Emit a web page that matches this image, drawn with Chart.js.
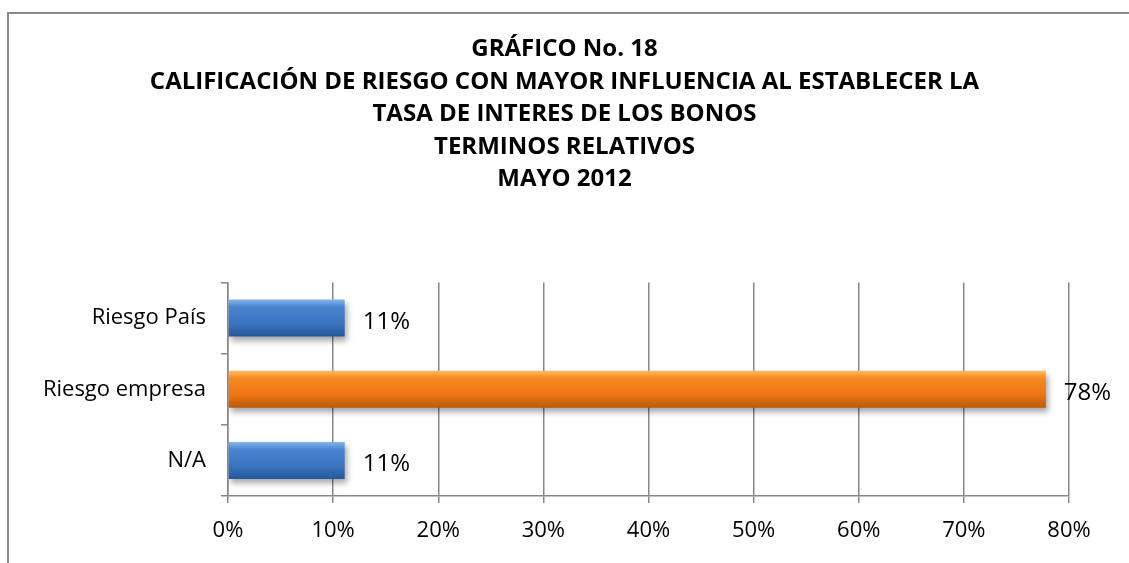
<!DOCTYPE html>
<html>
<head>
<meta charset="utf-8">
<script src="https://cdn.jsdelivr.net/npm/chart.js@4.4.1/dist/chart.umd.min.js"></script>
<style>
  html, body { margin:0; padding:0; background:#fff; overflow:hidden; }
  #wrap { position:relative; width:1129px; height:563px; }
  #frame { position:absolute; left:7px; top:12px; width:1200px; height:600px;
           border-left:2px solid #8a8a8a; border-top:2px solid #8a8a8a; }
  canvas { position:absolute; left:0; top:0; }
</style>
</head>
<body>
<div id="wrap">
  <div id="frame"></div>
  <canvas id="c" width="1129" height="563"></canvas>
</div>
<script>
const titleLines = [
  "GRÁFICO No. 18",
  "CALIFICACIÓN DE RIESGO CON MAYOR INFLUENCIA AL ESTABLECER LA",
  "TASA DE INTERES DE LOS BONOS",
  "TERMINOS RELATIVOS",
  "MAYO 2012"
];
const categories = ["Riesgo País", "Riesgo empresa", "N/A"];
const values = [11.1, 77.8, 11.1];
const barKind = ["blue", "orange", "blue"];
const xTicks = [0, 10, 20, 30, 40, 50, 60, 70, 80];

const FONT = "'Open Sans', Lato, sans-serif";
const BAR_PCT = 0.52;
const palette = {
  blue:   ["#86b6ec", "#4a85d0", "#3a74c0", "#27579a"],
  orange: ["#ffbb66", "#f88a22", "#ee7512", "#b95a0c"]
};

// degradado vertical por barra (efecto "bisel" de Excel)
function barFill(ctx) {
  const chart = ctx.chart;
  const c = palette[barKind[ctx.dataIndex]];
  const ys = chart.scales && chart.scales.y;
  if (!chart.chartArea || !ys) return c[2];
  const yc = ys.getPixelForValue(ctx.dataIndex);
  const h = (ys.height / categories.length) * BAR_PCT;
  if (!isFinite(yc) || !isFinite(h) || h <= 0) return c[2];
  const y0 = yc - h / 2;
  const g = chart.ctx.createLinearGradient(0, y0, 0, y0 + h);
  g.addColorStop(0, c[0]);
  g.addColorStop(0.2, c[1]);
  g.addColorStop(0.65, c[2]);
  g.addColorStop(1, c[3]);
  return g;
}

const shadowPlugin = {
  id: "shadow",
  beforeDatasetDraw(chart) {
    const ctx = chart.ctx;
    ctx.save();
    ctx.shadowColor = "rgba(0,0,0,0.35)";
    ctx.shadowBlur = 6;
    ctx.shadowOffsetX = 2;
    ctx.shadowOffsetY = 4;
  },
  afterDatasetDraw(chart) { chart.ctx.restore(); }
};

const labelPlugin = {
  id: "valueLabels",
  afterDatasetsDraw(chart) {
    const ctx = chart.ctx;
    const meta = chart.getDatasetMeta(0);
    ctx.save();
    ctx.font = "24px " + FONT;
    ctx.fillStyle = "#000";
    ctx.textAlign = "left";
    ctx.textBaseline = "middle";
    meta.data.forEach((bar, i) => {
      ctx.fillText(Math.round(values[i]) + "%", bar.x + 18, bar.y + 4);
    });
    ctx.restore();
  }
};

new Chart(document.getElementById("c"), {
  type: "bar",
  data: {
    labels: categories,
    datasets: [{
      data: values,
      backgroundColor: barFill,
      borderWidth: 0,
      barPercentage: BAR_PCT,
      categoryPercentage: 1
    }]
  },
  options: {
    indexAxis: "y",
    responsive: false,
    animation: false,
    layout: { padding: 0 },
    plugins: {
      legend: { display: false },
      tooltip: { enabled: false },
      title: {
        display: true,
        text: titleLines,
        color: "#000",
        font: { family: FONT, size: 24, weight: "bold", lineHeight: 1.354 },
        padding: { top: 33, bottom: 87 }
      }
    },
    scales: {
      x: {
        min: 0, max: 80,
        afterBuildTicks: s => { s.ticks = xTicks.map(v => ({ value: v })); },
        ticks: {
          callback: v => v + "%",
          color: "#000",
          font: { family: FONT, size: 22 },
          padding: 15
        },
        grid: { color: "#878787", lineWidth: 1.5, tickLength: 7, drawTicks: true },
        border: { color: "#878787", width: 1.5 },
        afterFit: s => { s.height = 67; }
      },
      y: {
        ticks: {
          color: "#000",
          font: { family: FONT, size: 22 },
          padding: 15
        },
        grid: { color: "#878787", lineWidth: 1.5, tickLength: 7, drawOnChartArea: false, offset: true },
        border: { color: "#878787", width: 1.5 },
        afterFit: s => { s.width = 228; }
      },
      // eje vacío a la derecha: reserva espacio para la etiqueta 78%
      yRight: {
        type: "category",
        position: "right",
        ticks: { display: false },
        grid: { display: false, drawTicks: false },
        border: { display: false },
        afterFit: s => { s.width = 60; }
      }
    }
  },
  plugins: [shadowPlugin, labelPlugin]
});
</script>
</body>
</html>
